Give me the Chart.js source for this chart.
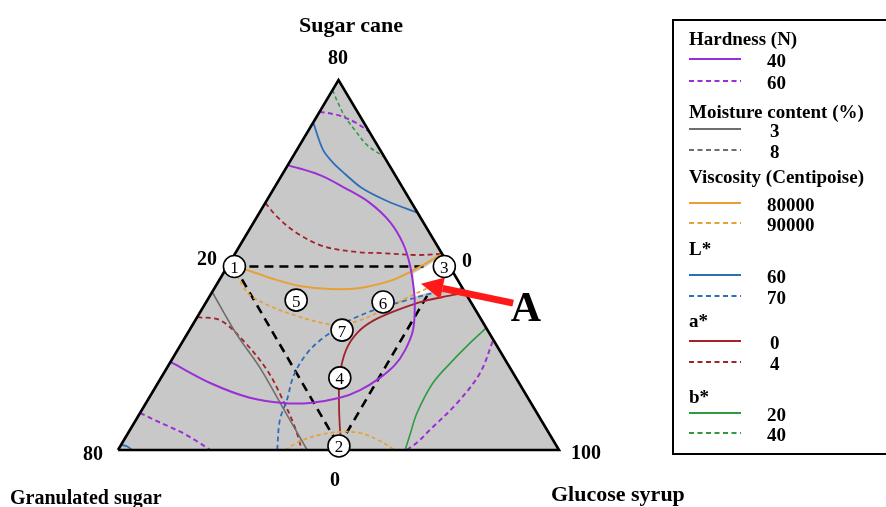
<!DOCTYPE html>
<html>
<head>
<meta charset="utf-8">
<script src="https://cdn.jsdelivr.net/npm/chart.js@4.4.1/dist/chart.umd.min.js"></script>
<style>
  html, body { margin: 0; padding: 0; background: #fff; }
  #wrap { position: relative; width: 886px; height: 507px; overflow: hidden;
          font-family: "Liberation Serif", "Times New Roman", serif; font-weight: bold; color: #000; }
  #wrap canvas, #wrap svg { position: absolute; left: 0; top: 0; }
  .t { position: absolute; white-space: nowrap; line-height: 1; }
  .c { transform: translate(-50%, -50%); }
  .l { transform: translate(0, -50%); }
  .run { font-weight: normal; font-size: 17px; }
  #legendBox { position: absolute; left: 672px; top: 19px; width: 240px; height: 436px;
               box-sizing: border-box; border: 2px solid #000; }
</style>
</head>
<body>
<div id="wrap">
  <canvas id="chart" width="886" height="507"></canvas>
  <div id="legendBox"></div>
  <svg id="legendLines" width="886" height="507"></svg>
</div>
<script>
// Ternary frame: x runs 0–100 along the base (Granulated sugar → Glucose syrup),
// y runs 0–100 from the base up to the Sugar cane apex.
const triangle = [[0, 0], [100, 0], [50, 100]];

// Mixture design runs
const runLabels = ['1', '2', '3', '4', '5', '6', '7'];
const runX = [26.4, 50.1, 74.0, 50.3, 40.4, 60.1, 50.8];
const runY = [49.6, 1.1, 49.6, 19.5, 40.5, 40.0, 32.4];

// Hardness (N) contours
const hardness40 = [[38.5, 77.0], [45.8, 74.3], [51.5, 70.8], [57.1, 66.8], [61.7, 61.6], [64.6, 55.9],
  [66.2, 50.0], [67.1, 43.2], [67.3, 39.2], [66.9, 32.4], [65.1, 27.0], [62.8, 23.0], [59.4, 19.5],
  [54.9, 16.2], [50.3, 14.1], [43.5, 12.7], [37.4, 12.7], [29.9, 14.1], [20.9, 18.1], [11.9, 23.8]];
const hardness60Top = [[45.7, 91.4], [49.9, 90.5], [53.7, 88.6], [57.0, 86.0]];
const hardness60Left = [[5.0, 10.0], [8.5, 8.0], [11.8, 6.2], [14.7, 4.6], [18.0, 2.3], [20.9, 0]];
const hardness60Right = [[65.5, 0], [68.0, 2.2], [70.7, 5.4], [76.9, 12.7], [82.1, 20.8], [85.1, 29.8]];

// Moisture content (%) contour
const moisture3 = [[21.35, 42.7], [27.0, 31.1], [32.2, 22.2], [37.4, 11.4], [42.9, 0]];

// Viscosity (Centipoise) contours
const viscosity80000 = [[25.0, 49.6], [29.9, 48.4], [34.5, 46.5], [41.3, 44.3], [48.1, 43.5], [54.9, 43.8],
  [61.7, 45.7], [66.2, 48.1], [70.3, 50.8], [73.5, 53.0]];
const viscosity90000Upper = [[26.4, 49.0], [27.6, 45.8], [29.9, 41.9], [34.5, 38.9], [40.6, 36.2], [46.5, 34.3],
  [50.3, 33.8], [54.9, 35.1], [60.1, 37.8], [65.5, 41.1], [69.2, 43.2], [73.0, 45.4]];
const viscosity90000Lower = [[37.9, 0], [41.3, 2.4], [45.8, 4.1], [50.3, 4.9], [54.9, 4.6], [59.0, 2.7], [62.8, 0]];

// L* contours
const lightness60Upper = [[44.3, 88.4], [46.5, 81.1], [48.8, 77.6], [51.5, 74.6], [55.3, 70.8], [61.0, 67.3], [67.95, 64.1]];
const lightness60Corner = [[0.7, 1.4], [2.0, 1.0], [3.2, 0]];
const lightness70 = [[36.1, 0], [36.7, 8.1], [38.3, 13.5], [39.9, 20.3], [42.9, 26.2], [46.5, 30.3], [50.3, 33.2],
  [52.6, 35.1], [58.7, 38.1], [65.5, 40.5], [70.7, 42.2], [78.1, 43.8]];

// a* contours
const redness0 = [[50.8, 0], [50.3, 6.2], [50.1, 13.5], [50.3, 20.3], [51.7, 27.0], [54.2, 31.6], [57.8, 34.9],
  [63.3, 37.8], [69.6, 40.3], [76.0, 41.9], [78.6, 42.7]];
const redness4Upper = [[33.4, 66.8], [36.1, 63.0], [40.6, 58.6], [46.5, 55.1], [54.2, 53.5], [60.1, 53.2], [67.8, 52.7], [73.5, 53.0]];
const redness4Left = [[17.95, 35.9], [23.1, 35.1], [28.3, 29.7], [33.8, 21.6], [37.4, 13.5], [40.1, 6.2], [41.7, 0]];

// b* contours
const yellowness20 = [[65.1, 0], [66.2, 4.1], [67.8, 10.0], [71.4, 18.1], [76.0, 24.3], [79.8, 28.9], [83.5, 33.0]];
const yellowness40 = [[48.65, 97.3], [49.9, 93.8], [51.5, 90.0], [53.7, 86.5], [56.5, 82.4], [60.4, 79.2]];

// Optimum region A (no constraint violated) and its pointer
const regionA = [[67.0, 47.8], [69.8, 49.5], [73.2, 52.2], [74.6, 51.1], [76.4, 47.3], [78.25, 43.5],
  [74.6, 43.2], [70.7, 42.7], [67.1, 41.4]];
const arrowShaft = [[73.6, 43.7], [89.6, 39.7]];
const arrowHead = [[68.7, 44.9], [73.1, 40.8], [74.1, 46.6]];

// Legend content
const legendTitles = ['Hardness (N)', 'Moisture content (%)', 'Viscosity (Centipoise)', 'L*', 'a*', 'b*'];
const legendLevels = [['40', '60'], ['3', '8'], ['80000', '90000'], ['60', '70'], ['0', '4'], ['20', '40']];

const COLORS = {
  purple: '#9b2fd6', gray: '#6e6e6e', orange: '#e6a033',
  blue: '#2e6db8', red: '#a3222a', green: '#2f9a42', fill: '#c8c8c8'
};
const legendColors = [COLORS.purple, COLORS.gray, COLORS.orange, COLORS.blue, COLORS.red, COLORS.green];

// Where the frame sits on the page: left vertex x, base line y, pixels per unit
const FRAME = { left: 118, base: 450, pxX: 4.41, pxY: 3.70 };

const xy = arr => arr.map(([x, y]) => ({ x, y }));

function curve(arr, color, dashed, width, order) {
  return {
    data: xy(arr), showLine: true, pointRadius: 0, fill: false,
    borderColor: color, borderWidth: width, borderDash: dashed ? [5, 3.5] : [],
    tension: 0.35, order: order || 50
  };
}
function shape(arr, color, order) {
  return {
    data: xy(arr.concat([arr[0]])), showLine: true, pointRadius: 0, tension: 0,
    borderColor: 'rgba(0,0,0,0)', borderWidth: 0, backgroundColor: color, fill: 'shape', order
  };
}

const tri = triangle.concat([triangle[0]]);
const runs = runX.map((x, i) => [x, runY[i]]);
const blackDash = (a, b) => ({
  data: xy([runs[a], runs[b]]), showLine: true, pointRadius: 0, tension: 0, fill: false,
  borderColor: '#000', borderWidth: 2.6, borderDash: [9, 6], order: 90
});

const datasets = [
  shape(triangle, COLORS.fill, 100),
  blackDash(0, 2), blackDash(0, 1), blackDash(1, 2),
  shape(regionA, '#ffffff', 80),
  curve(hardness40, COLORS.purple, false, 2),
  curve(hardness60Top, COLORS.purple, true, 2),
  curve(hardness60Left, COLORS.purple, true, 2),
  curve(hardness60Right, COLORS.purple, true, 2),
  curve(moisture3, COLORS.gray, false, 1.6),
  curve(viscosity80000, COLORS.orange, false, 2),
  Object.assign(curve(viscosity90000Upper, COLORS.orange, true, 1.7), { borderDash: [4, 3] }),
  Object.assign(curve(viscosity90000Lower, COLORS.orange, true, 1.7), { borderDash: [4, 3] }),
  curve(lightness60Upper, COLORS.blue, false, 1.8),
  curve(lightness60Corner, COLORS.blue, false, 1.8),
  curve(lightness70, COLORS.blue, true, 1.8),
  curve(redness0, COLORS.red, false, 1.8),
  curve(redness4Upper, COLORS.red, true, 1.8),
  curve(redness4Left, COLORS.red, true, 1.8),
  curve(yellowness20, COLORS.green, false, 1.6),
  Object.assign(curve(yellowness40, COLORS.green, true, 1.6), { borderDash: [4, 3] }),
  {
    data: xy(tri), showLine: true, pointRadius: 0, tension: 0, fill: false,
    borderColor: '#000', borderWidth: 2.6, borderJoinStyle: 'miter', order: 20
  },
  {
    data: xy(arrowShaft), showLine: true, pointRadius: 0, tension: 0, fill: false,
    borderColor: '#ff1a1a', borderWidth: 7, order: 6
  },
  shape(arrowHead, '#ff1a1a', 5),
  {
    data: xy(runs), showLine: false, pointRadius: 11, pointHoverRadius: 11,
    pointBackgroundColor: '#fff', pointBorderColor: '#000', pointBorderWidth: 1.6, order: 1
  }
];

const chart = new Chart(document.getElementById('chart'), {
  type: 'scatter',
  data: { datasets },
  options: {
    responsive: false, animation: false, events: [],
    layout: { padding: 0 },
    plugins: { legend: { display: false }, tooltip: { enabled: false }, title: { display: false } },
    scales: {
      x: { type: 'linear', display: false, min: -26.76, max: 174.15 },
      y: { type: 'linear', display: false, min: -15.41, max: 121.62 }
    }
  }
});

// Fit the scale ranges to the plotting area so the frame lands where intended
const area = chart.chartArea;
chart.options.scales.x.min = (area.left - FRAME.left) / FRAME.pxX;
chart.options.scales.x.max = (area.right - FRAME.left) / FRAME.pxX;
chart.options.scales.y.min = (FRAME.base - area.bottom) / FRAME.pxY;
chart.options.scales.y.max = (FRAME.base - area.top) / FRAME.pxY;
chart.update('none');

const wrap = document.getElementById('wrap');
function addText(text, x, y, size, cls) {
  const d = document.createElement('div');
  d.className = 't ' + (cls || 'c');
  d.textContent = text;
  d.style.left = x + 'px';
  d.style.top = y + 'px';
  if (size) d.style.fontSize = size + 'px';
  wrap.appendChild(d);
  return d;
}

// Run numbers inside the markers, placed through the chart scales
const sx = chart.scales.x, sy = chart.scales.y;
runs.forEach(([x, y], i) => {
  addText(runLabels[i], sx.getPixelForValue(x), sy.getPixelForValue(y) + 0.5, null, 'c run');
});

// Component names and axis limits
addText('Sugar cane', 351, 25, 22);
addText('80', 338, 57, 20);
addText('20', 207, 258, 20);
addText('0', 467, 260, 20);
addText('80', 93, 453, 20);
addText('100', 586, 452, 20);
addText('0', 335, 479, 20);
addText('Granulated sugar', 10, 497, 20, 'l');
addText('Glucose syrup', 551, 494, 22, 'l');
addText('A', 526, 307, 42);

// Legend
const titleY = [38, 111, 176, 248, 320, 396];
const rowY = [[59, 81], [129, 150], [203, 223], [275, 296], [341, 362], [413, 433]];
const svg = document.getElementById('legendLines');
const NS = 'http://www.w3.org/2000/svg';
legendTitles.forEach((title, g) => {
  addText(title, 689, titleY[g], 19, 'l');
  legendLevels[g].forEach((lvl, k) => {
    const y = rowY[g][k];
    const ln = document.createElementNS(NS, 'line');
    ln.setAttribute('x1', 689); ln.setAttribute('x2', 741);
    ln.setAttribute('y1', y); ln.setAttribute('y2', y);
    ln.setAttribute('stroke', legendColors[g]);
    ln.setAttribute('stroke-width', 2);
    if (k === 1) ln.setAttribute('stroke-dasharray', '5 3.5');
    svg.appendChild(ln);
    addText(lvl, lvl.length === 1 ? 770 : 767, y + 1, 19, 'l');
  });
});
</script>
</body>
</html>
